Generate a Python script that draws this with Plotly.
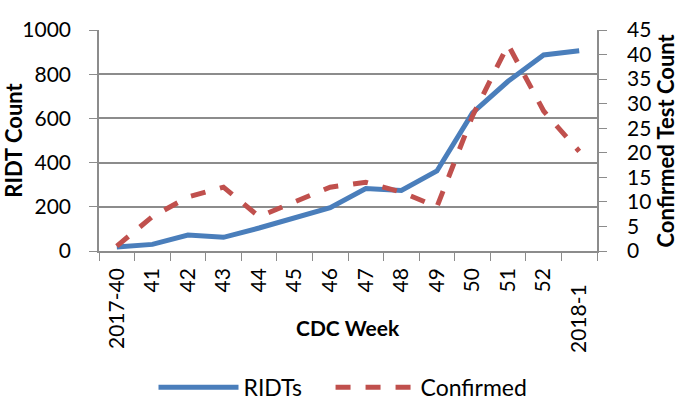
import plotly.graph_objects as go

weeks = ["2017-40", "41", "42", "43", "44", "45", "46", "47", "48", "49", "50", "51", "52", "2018-1"]
week_labels = ["2017-40", "41", "42", "43", "44", "45", "46", "47", "48", "49", "50", "51", "52", "2018-1\u00a0\u00a0\u00a0"]
ridts = [18, 30, 72, 62, 104, 151, 196, 283, 274, 362, 625, 768, 887, 906]
confirmed = [1, 7, 11, 13, 7, 10, 13, 14, 12, 9, 27.5, 42, 28.5, 20.3]
series_names = ["RIDTs", "Confirmed"]

FONT = "Lato"
grid = "#8c8c8c"
NB = "\u00a0"

fig = go.Figure()
fig.add_trace(go.Scatter(x=weeks, y=ridts, name=series_names[0] + NB * 4, mode="lines",
                         line=dict(color="#4A7EBB", width=5)))
fig.add_trace(go.Scatter(x=weeks, y=confirmed, name=series_names[1], mode="lines",
                         line=dict(color="#C0504D", width=5, dash="dash"), yaxis="y2"))

fig.update_layout(
    width=686, height=412,
    margin=dict(l=99, r=89, t=30, b=161),
    paper_bgcolor="white", plot_bgcolor="white",
    font=dict(family=FONT, size=21, color="black"),
    showlegend=True,
    legend=dict(orientation="h", x=0.5, xanchor="center", xref="container",
                y=0.06, yanchor="middle", yref="container",
                font=dict(size=23), itemwidth=80),
    xaxis=dict(type="category", range=[-0.5, 13.5], tickangle=-90,
               tickmode="array", tickvals=weeks, ticktext=week_labels,
               showline=True, linecolor=grid, linewidth=1.5,
               ticks="outside", tickson="boundaries", ticklen=8, tickcolor=grid,
               ticklabelstandoff=7,
               showgrid=False, automargin=False),
    yaxis=dict(range=[0, 1000], dtick=200, showgrid=True, gridcolor=grid, gridwidth=1.5,
               showline=True, linecolor=grid, linewidth=1.5,
               ticks="outside", ticklen=8, tickcolor=grid, ticklabelstandoff=14,
               zeroline=False, automargin=False,
               title=dict(text="<b>RIDT Count</b>", font=dict(size=22), standoff=4)),
    yaxis2=dict(range=[0, 45], dtick=5, overlaying="y", side="right", showgrid=False,
                showline=True, linecolor=grid, linewidth=1.5,
                ticks="outside", ticklen=8, tickcolor=grid,
                tickprefix=NB * 3,
                zeroline=False, automargin=False),
    annotations=[
        dict(text="<b>CDC Week</b>", x=0.5, xref="paper", y=-(327 - 251) / 221,
             yref="paper", showarrow=False, font=dict(size=21),
             xanchor="center", yanchor="middle"),
        dict(text="<b>Confirmed Test Count</b>", x=(665 - 99) / 498, xref="paper",
             y=0.5, yref="paper", showarrow=False, font=dict(size=22), textangle=-90,
             xanchor="center", yanchor="middle"),
    ],
)

fig.write_html("out.html", post_script="document.body.style.margin='0';",
               config={"displayModeBar": False})
